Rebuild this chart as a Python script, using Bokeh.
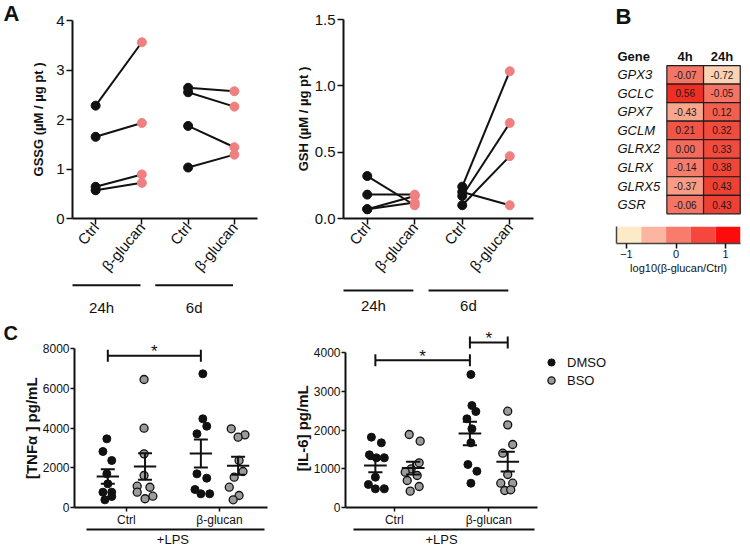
import math
import numpy as np
from bokeh.plotting import figure
from bokeh.layouts import row, column
from bokeh.models import (Range1d, FixedTicker, LinearAxis, Legend, LegendItem, Spacer,
                          ColumnDataSource, LinearColorMapper, PrintfTickFormatter)
from bokeh.transform import transform
from bokeh.core.properties import value
from bokeh.embed import file_html
from bokeh.resources import INLINE

FONT = "Liberation Sans"
INK = "#111111"
PINK = "#F08080"
GREY = "#9B9B9B"

# ---------------- data: panel A ----------------
a_ticks = ["Ctrl", "β-glucan", "Ctrl", "β-glucan"]
a_groups = ["24h", "6d"]
gssg_ctrl_24h = [2.28, 1.65, 0.64, 0.57]
gssg_bglu_24h = [3.56, 1.93, 0.89, 0.72]
gssg_ctrl_6d = [2.64, 2.55, 1.87, 1.03]
gssg_bglu_6d = [2.57, 2.26, 1.44, 1.29]
gsh_ctrl_24h = [0.32, 0.18, 0.07, 0.07]
gsh_bglu_24h = [0.10, 0.18, 0.17, 0.12]
gsh_ctrl_6d = [0.24, 0.17, 0.10, 0.20]
gsh_bglu_6d = [1.11, 0.72, 0.47, 0.10]
gssg_yticks = [0, 1, 2, 3, 4]
gsh_yticks = [0.0, 0.5, 1.0, 1.5]

# ---------------- data: panel B ----------------
genes = ["GPX3", "GCLC", "GPX7", "GCLM", "GLRX2", "GLRX", "GLRX5", "GSR"]
hm_cols = ["4h", "24h"]
fc_4h = [-0.07, 0.56, -0.43, 0.21, 0.00, -0.14, -0.37, -0.06]
fc_24h = [-0.72, -0.05, 0.12, 0.32, 0.33, 0.38, 0.43, 0.43]
cb_ticks = [-1, 0, 1]
cb_edges = [-1.2, -0.7, -0.2, 0.3, 0.8, 1.3]
cb_colors = ["#FDEBC8", "#FCB59E", "#F97B6C", "#F5473D", "#FE0B0B"]

# ---------------- data: panel C ----------------
c_cats = ["Ctrl", "β-glucan"]
c_treats = ["DMSO", "BSO"]
c_group_label = "+LPS"
tnf_yticks = [0, 2000, 4000, 6000, 8000]
il6_yticks = [0, 1000, 2000, 3000, 4000]

tnf_ctrl_dmso = [3455, 2817, 2365, 1694, 1190, 770, 770, 553, 386]
tnf_ctrl_bso = [6440, 3990, 2700, 1610, 1072, 1020, 770, 570, 440]
tnf_bglu_dmso = [6727, 4463, 4091, 3708, 1694, 1476, 906, 689, 689]
tnf_bglu_bso = [3958, 3656, 3539, 2365, 1811, 1526, 1022, 604, 386]
il6_ctrl_dmso = [1815, 1669, 1359, 1282, 1282, 783, 594, 482, 482]
il6_ctrl_bso = [1884, 1712, 1153, 998, 912, 826, 697, 542, 422]
il6_bglu_dmso = [3432, 2632, 2477, 2289, 2031, 1669, 1110, 937, 627]
il6_bglu_bso = [2486, 2133, 1626, 1402, 852, 627, 627, 439, 456]

# horizontal scatter of the dots (pixels)
tnf_ctrl_dmso_jit = [-1, -5, 4, -1, 0, 4, -5, 4, -3]
tnf_ctrl_bso_jit = [-1, -1, -1, -1, -8, 5, -8, 8, 0]
tnf_bglu_dmso_jit = [2, 2, 6, -4, -4, 6, -6, 0, 9]
tnf_bglu_bso_jit = [-7, 7, 0, 1, 5, -4, -9, 1, -5]
il6_ctrl_dmso_jit = [-4, 6, -6, 1, 9, 0, -7, 0, 9]
il6_ctrl_bso_jit = [-4, 7, 6, -2, -8, 4, -6, 6, -3]
il6_bglu_dmso_jit = [1, 2, 6, -3, 2, 1, -2, 7, 1]
il6_bglu_bso_jit = [0, 0, 5, -5, 0, -7, 5, -3, 3]

# significance: (cat, treat) -> (cat, treat), height
tnf_sig = [(0, 0, 1, 0, 7640)]
il6_sig = [(0, 0, 1, 0, 3800), (1, 0, 1, 1, 4260)]

TREAT_OFFSET = [-0.2, 0.2]
JIT_PX = 95.0
LABEL_PAD = "\u2002" * 3   # keeps the rotated C titles centred on the value axis


def new_fig(width, height, xr, yr, ml, mr, mt, mb, axes=True):
    kw = {}
    if not axes:
        kw = dict(x_axis_type=None, y_axis_type=None)
    p = figure(width=width, height=height, x_range=xr, y_range=yr,
               output_backend="svg", toolbar_location=None, frame_align=False,
               min_border_left=ml, min_border_right=mr,
               min_border_top=mt, min_border_bottom=mb, **kw)
    p.outline_line_color = None
    p.grid.visible = False
    p.background_fill_color = "white"
    p.border_fill_color = "white"
    return p


def axis_style(ax, tick_font, tick_out=6, standoff=2, lw=2):
    ax.axis_line_color = INK
    ax.axis_line_width = lw
    ax.major_tick_line_color = INK
    ax.major_tick_line_width = 1.5
    ax.major_tick_in = 0
    ax.major_tick_out = tick_out
    ax.minor_tick_line_color = None
    ax.major_label_text_font = FONT
    ax.major_label_text_font_size = tick_font
    ax.major_label_text_color = INK
    ax.major_label_standoff = standoff
    ax.axis_label_text_font = FONT
    ax.axis_label_text_font_style = "bold"
    ax.axis_label_text_color = INK


def letter_fig(letter, width, height, lx, ly, size="22px"):
    p = new_fig(width, height, Range1d(0, width), Range1d(height, 0), 0, 0, 0, 0, axes=False)
    p.text(x=[lx], y=[ly], text=[letter], text_font=value(FONT), text_font_size=value(size),
           text_font_style="bold", text_align="left", text_baseline="middle", text_color=INK)
    return p


def make_a(width, ml, mr, mt, mb, ymax, yticks, yfmt, ylabel, lab_standoff,
           ctrl_sets, bglu_sets):
    xr = Range1d(-0.5, len(a_ticks) - 0.5)
    p = new_fig(width, 282, xr, Range1d(0, ymax), ml, mr, mt, mb)
    for g, (ctrl, bglu) in enumerate(zip(ctrl_sets, bglu_sets)):
        xc, xb = 2 * g, 2 * g + 1
        n = len(ctrl)
        p.segment(x0=[xc] * n, y0=ctrl, x1=[xb] * n, y1=bglu, line_color=INK, line_width=2)
        p.scatter(x=[xc] * n, y=ctrl, size=9, fill_color=INK, line_color=INK)
        p.scatter(x=[xb] * n, y=bglu, size=9, fill_color=PINK, line_color=PINK)
    xa = p.xaxis[0]
    axis_style(xa, "15px", tick_out=6, standoff=0)
    xa.ticker = FixedTicker(ticks=list(range(len(a_ticks))))
    xa.major_label_overrides = {i: t for i, t in enumerate(a_ticks)}
    xa.major_label_orientation = math.radians(50)
    ya = p.yaxis[0]
    axis_style(ya, "15px", tick_out=6, standoff=2)
    ya.ticker = FixedTicker(ticks=yticks)
    ya.formatter = PrintfTickFormatter(format=yfmt)
    ya.axis_label = ylabel
    ya.axis_label_text_font_size = "13px"
    ya.axis_label_standoff = lab_standoff
    return p, xr


def make_groups(width, ml, mr, xr, bar_y, lab_y):
    g = new_fig(width, 34, xr, Range1d(0, 1), ml, mr, 0, 0, axes=False)
    n = len(a_groups)
    first = [2 * i for i in range(n)]
    x0 = [f - 0.71 for f in first]
    x1 = [f + 0.97 for f in first]
    g.segment(x0=x0, y0=[bar_y] * n, x1=x1, y1=[bar_y] * n, line_color=INK, line_width=2)
    g.text(x=[(a + b) / 2 for a, b in zip(x0, x1)], y=[lab_y] * n, text=a_groups,
           text_font=value(FONT), text_font_size=value("15px"), text_align="center",
           text_baseline="middle", text_color=INK)
    return g


def make_heatmap():
    p = new_fig(190, 220, Range1d(-3.398, 1.779), Range1d(7.859, -4.008), 0, 0, 0, 0, axes=False)
    xs, ys, vs = [], [], []
    for ci, vals in enumerate([fc_4h, fc_24h]):
        for ri, v in enumerate(vals):
            xs.append(ci)
            ys.append(ri)
            vs.append(v)
    av = [-1.25, -0.72, -0.40, -0.14, 0.0, 0.21, 0.45, 0.60, 1.25]
    ac = [(253, 238, 205), (252, 210, 180), (250, 160, 136), (246, 125, 108), (244, 108, 92),
          (242, 85, 70), (238, 64, 50), (240, 42, 32), (255, 0, 0)]
    grid = np.linspace(-1.25, 1.25, 256)
    chans = [np.interp(grid, av, [c[k] for c in ac]) for k in range(3)]
    palette = ["#%02x%02x%02x" % (int(round(r)), int(round(g)), int(round(b)))
               for r, g, b in zip(*chans)]
    mapper = LinearColorMapper(palette=palette, low=-1.25, high=1.25)
    src = ColumnDataSource(dict(x=xs, y=ys, v=vs, t=["%.2f" % v for v in vs]))
    p.rect(x="x", y="y", width=1, height=1, source=src, fill_color=transform("v", mapper),
           line_color="#1E1E1E", line_width=1.2)
    p.text(x="x", y="y", text="t", source=src, text_font=value(FONT), text_font_size=value("10px"),
           text_align="center", text_baseline="middle", text_color="#1A1A1A")
    gene_x = -1.845
    p.text(x=[gene_x] * len(genes), y=list(range(len(genes))), text=genes,
           text_font=value(FONT), text_font_size=value("13px"), text_font_style="italic",
           text_align="left", text_baseline="middle", text_color=INK)
    header_y = -0.99
    p.text(x=[gene_x], y=[header_y], text=["Gene"], text_font=value(FONT),
           text_font_size=value("13px"), text_font_style="bold", text_align="left",
           text_baseline="middle", text_color=INK)
    p.text(x=list(range(len(hm_cols))), y=[header_y] * len(hm_cols), text=hm_cols,
           text_font=value(FONT), text_font_size=value("13px"), text_font_style="bold",
           text_align="center", text_baseline="middle", text_color=INK)
    p.text(x=[-1.90], y=[-3.14], text=["B"], text_font=value(FONT), text_font_size=value("22px"),
           text_font_style="bold", text_align="left", text_baseline="middle", text_color=INK)
    return p


def make_cbar():
    p = new_fig(190, 92, Range1d(cb_edges[0], cb_edges[-1]), Range1d(0, 1), 56, 10, 6, 69)
    p.quad(left=cb_edges[:-1], right=cb_edges[1:], bottom=0, top=1, fill_color=cb_colors,
           line_color=None)
    xa = p.xaxis[0]
    axis_style(xa, "11px", tick_out=5, standoff=1, lw=1.5)
    xa.axis_line_color = "#444444"
    xa.ticker = FixedTicker(ticks=cb_ticks)
    xa.axis_label = "log10(β-glucan/Ctrl)"
    xa.axis_label_text_font_style = "normal"
    xa.axis_label_text_font_size = "11px"
    xa.axis_label_standoff = 1
    ya = p.yaxis[0]
    axis_style(ya, "11px", tick_out=0, standoff=0, lw=1.5)
    ya.axis_line_color = "#444444"
    ya.ticker = FixedTicker(ticks=[])
    return p


def make_c(width, ml, mr, xs, xe, ymax, yticks, ylabel, series, sig, legend_loc=None):
    p = new_fig(width, 241, Range1d(xs, xe), Range1d(0, ymax), ml, mr, 10, 50)
    dpp = ymax / 181.0
    rends = {}
    for ci, ti, vals, jit in series:
        xc = ci + TREAT_OFFSET[ti]
        x = [xc + j / JIT_PX for j in jit]
        if ti == 0:
            r = p.scatter(x=x, y=vals, size=8, fill_color=INK, line_color=INK)
        else:
            r = p.scatter(x=x, y=vals, size=8, fill_color=GREY, line_color=INK, line_width=1.3)
        rends.setdefault(ti, r)
        m = float(np.mean(vals))
        se = float(np.std(vals, ddof=1) / np.sqrt(len(vals)))
        p.segment(x0=[xc - 0.12], y0=[m], x1=[xc + 0.12], y1=[m], line_color=INK, line_width=2)
        p.segment(x0=[xc, xc - 0.075, xc - 0.075], y0=[m - se, m + se, m - se],
                  x1=[xc, xc + 0.075, xc + 0.075], y1=[m + se, m + se, m - se],
                  line_color=INK, line_width=2)
    for c0, t0, c1, t1, y in sig:
        xa_ = c0 + TREAT_OFFSET[t0]
        xb_ = c1 + TREAT_OFFSET[t1]
        cap = 6 * dpp
        p.segment(x0=[xa_, xa_, xb_], y0=[y, y - cap, y - cap], x1=[xb_, xa_, xb_],
                  y1=[y, y + cap, y + cap], line_color=INK, line_width=2)
        p.text(x=[(xa_ + xb_) / 2], y=[y + 4 * dpp], text=["*"], text_font=value(FONT),
               text_font_size=value("17px"), text_align="center", text_baseline="middle",
               text_color=INK)
    xa = p.xaxis[0]
    axis_style(xa, "12px", tick_out=4, standoff=1)
    xa.ticker = FixedTicker(ticks=list(range(len(c_cats))))
    xa.major_label_overrides = {i: t for i, t in enumerate(c_cats)}
    xa.bounds = (xs, 1.516)
    ax2 = LinearAxis(ticker=FixedTicker(ticks=[0.5]), major_label_overrides={0.5: c_group_label},
                     bounds=(-0.43, 1.48))
    axis_style(ax2, "13px", tick_out=0, standoff=2)
    p.add_layout(ax2, "below")
    ya = p.yaxis[0]
    axis_style(ya, "12px", tick_out=4, standoff=1)
    ya.ticker = FixedTicker(ticks=yticks)
    ya.bounds = (0, yticks[-1])
    ya.axis_label = ylabel + LABEL_PAD
    ya.axis_label_text_font_size = "15px"
    ya.axis_label_standoff = 0
    if legend_loc is not None:
        lg = Legend(items=[LegendItem(label=c_treats[k], renderers=[rends[k]]) for k in range(2)],
                    location=legend_loc, padding=0, spacing=0, margin=0,
                    glyph_width=18, glyph_height=18, label_height=18, label_standoff=7,
                    label_text_font=FONT, label_text_font_size="13px", label_text_color=INK,
                    border_line_color=None, background_fill_alpha=0)
        p.add_layout(lg, "center")
    return p


letA = letter_fig("A", 24, 36, 3, 13)
a1, a1x = make_a(267, 48, 34, 20, 64, 4, gssg_yticks, "%d", "GSSG (µM / µg pt )", 7,
                 [gssg_ctrl_24h, gssg_ctrl_6d], [gssg_bglu_24h, gssg_bglu_6d])
a1g = make_groups(267, 48, 34, a1x, 0.92, 0.26)
a2, a2x = make_a(269, 52, 27, 19, 62, 1.5, gsh_yticks, "%.1f", "GSH (µM / µg pt )", 1,
                 [gsh_ctrl_24h, gsh_ctrl_6d], [gsh_bglu_24h, gsh_bglu_6d])
a2g = make_groups(269, 52, 27, a2x, 0.765, 0.31)
hm = make_heatmap()
cb = make_cbar()

letC = letter_fig("C", 19, 40, 3, 16, size="20px")
c1 = make_c(271, 51, 23, -0.558, 1.516, 181 / 159.0 * 8000, tnf_yticks, "[TNFα ] pg/mL",
            [(0, 0, tnf_ctrl_dmso, tnf_ctrl_dmso_jit), (0, 1, tnf_ctrl_bso, tnf_ctrl_bso_jit),
             (1, 0, tnf_bglu_dmso, tnf_bglu_dmso_jit), (1, 1, tnf_bglu_bso, tnf_bglu_bso_jit)],
            tnf_sig)
c2 = make_c(460, 53, 0, -0.516, 3.768, 181 / 155.0 * 4000, il6_yticks, "[IL-6] pg/mL",
            [(0, 0, il6_ctrl_dmso, il6_ctrl_dmso_jit), (0, 1, il6_ctrl_bso, il6_ctrl_bso_jit),
             (1, 0, il6_bglu_dmso, il6_bglu_dmso_jit), (1, 1, il6_bglu_bso, il6_bglu_bso_jit)],
            il6_sig, legend_loc=(197, 118))

top = row(column(letA, Spacer(width=24, height=280)), column(a1, a1g), column(a2, a2g),
          column(hm, cb))
bottom = row(column(letC, Spacer(width=19, height=201)), c1, c2)
lay = column(top, bottom)

open("out.html", "w").write(file_html(lay, INLINE, title="figure"))
